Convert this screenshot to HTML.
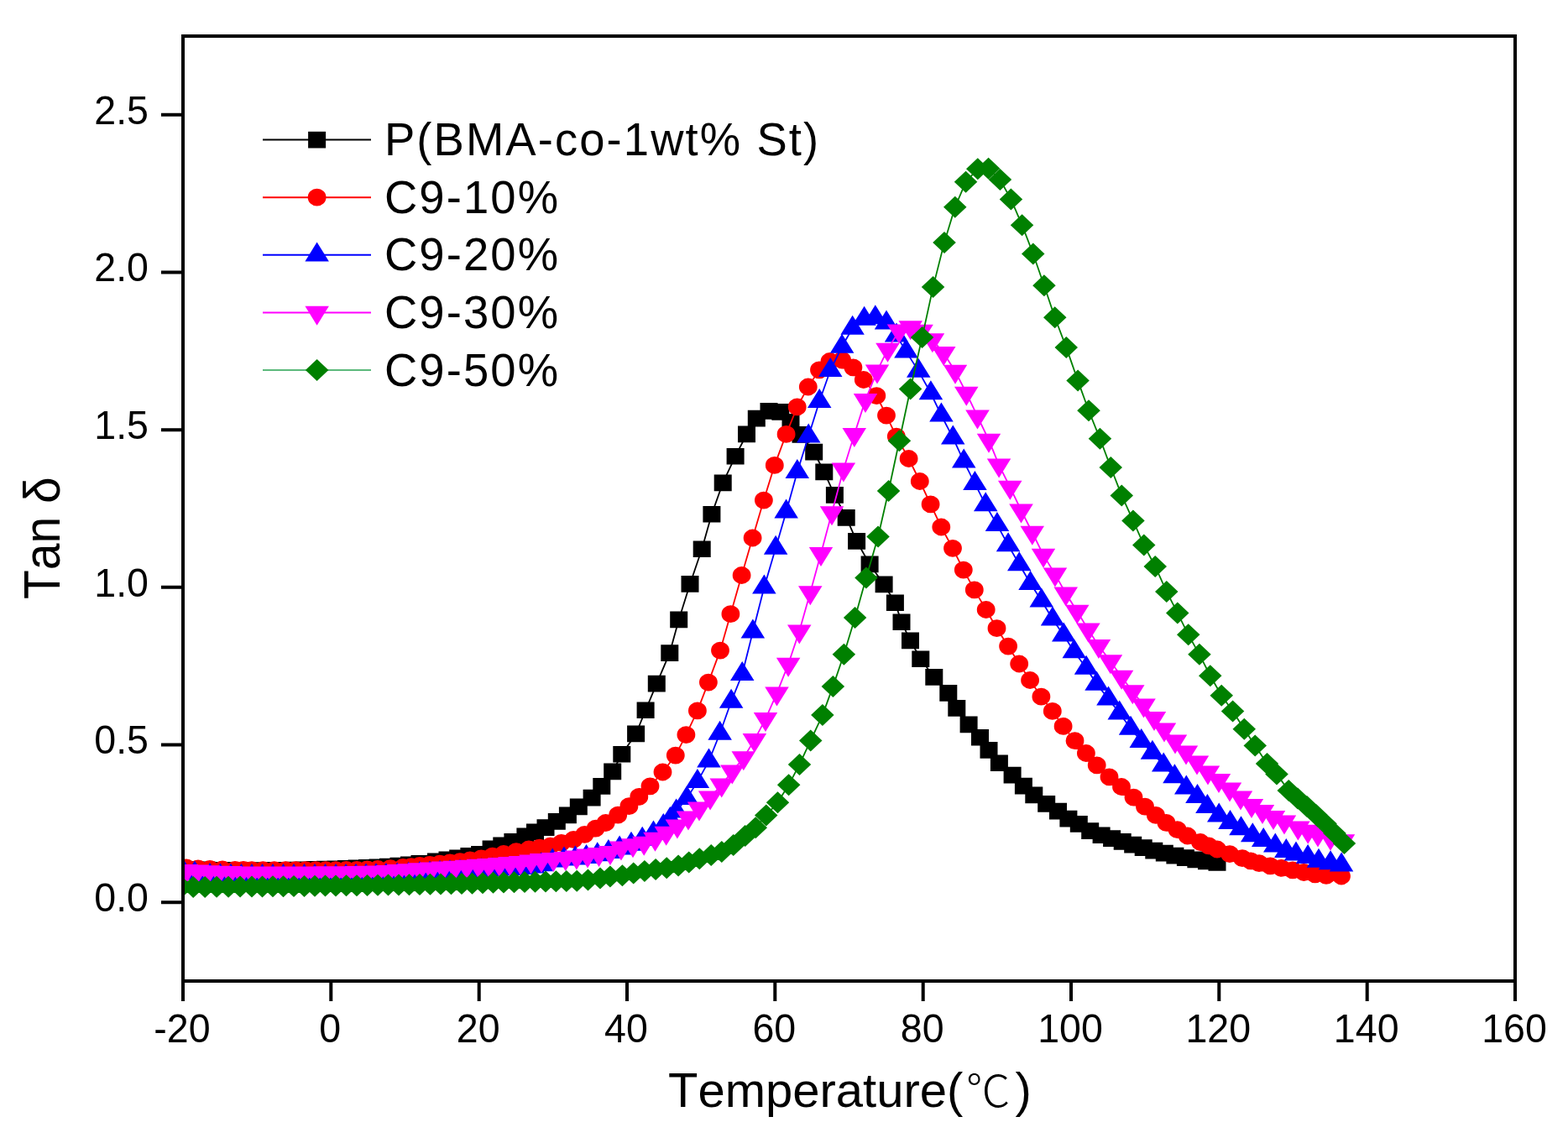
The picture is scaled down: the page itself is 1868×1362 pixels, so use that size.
<!DOCTYPE html>
<html><head><meta charset="utf-8"><title>Tan delta</title><style>html,body{margin:0;padding:0;background:#fff;overflow:hidden}svg{display:block}text{font-kerning:none;font-feature-settings:"kern" 0}</style></head><body>
<svg width="1868" height="1362" viewBox="0 0 1868 1362">
<rect width="1868" height="1362" fill="#fff"/>
<defs><clipPath id="pc"><rect x="218" y="43" width="1587" height="1126"/></clipPath></defs>
<g clip-path="url(#pc)">
<polyline fill="none" stroke="#000" stroke-width="1.8" points="218,1035.5 232,1036 246,1036.5 260,1036.8 273.3,1037 286.7,1037.1 300,1037.2 312.5,1037.1 325,1037 337.5,1036.7 350,1036.5 362.5,1036.2 375,1035.9 387.5,1035.6 400,1035.2 412.5,1034.8 425,1034.4 437.5,1033.9 450,1033.3 462.5,1032.5 475,1031.5 487.5,1030.3 500,1029 519.5,1026.3 533,1024.5 545.7,1022.2 558.9,1020 571.6,1017.7 585.1,1011.4 597.8,1007.2 610.9,1002.7 625.9,996.4 637.5,991.4 650,986.1 663.3,978.9 676.4,971.4 689.3,961.5 705.1,950.6 716.8,937 729.7,919.4 740.8,898.8 757.6,874.5 769.1,846.3 782.3,814.6 797.8,778.1 808.7,738.4 822,696 836.2,654.3 847.9,612.8 861.2,575.4 876.1,543.7 889.5,517.5 901.3,498.7 916,490 929.8,491 942,503 954,518 969.7,538.6 981.8,562.4 994.4,590 1008.2,616.9 1020.6,644.9 1036.1,672.4 1053.1,696.4 1066.4,718.2 1074,741.3 1084.5,763.4 1096.8,785.3 1112.8,807 1129.8,825.9 1139.8,844 1154.1,863.5 1167.5,878.7 1178,894 1190.4,909.3 1206.1,923.6 1219.4,936.6 1231.8,947.5 1246.7,958 1260.5,966.6 1272.9,975.6 1285.3,981.9 1298.7,990.1 1312.1,995.2 1324.6,999.1 1337.2,1002.9 1349.7,1006.6 1362.2,1010.2 1374.8,1013.5 1387.3,1016.7 1399.9,1019.6 1412.4,1022.2 1424.9,1024.5 1437.5,1026.4 1450,1028"/>
<path fill="#000" d="M207.5 1025.7h21v19.7h-21ZM221.5 1026.2h21v19.7h-21ZM235.5 1026.6h21v19.7h-21ZM249.5 1027h21v19.7h-21ZM262.8 1027.1h21v19.7h-21ZM276.2 1027.3h21v19.7h-21ZM289.5 1027.4h21v19.7h-21ZM302 1027.3h21v19.7h-21ZM314.5 1027.1h21v19.7h-21ZM327 1026.9h21v19.7h-21ZM339.5 1026.7h21v19.7h-21ZM352 1026.4h21v19.7h-21ZM364.5 1026.1h21v19.7h-21ZM377 1025.7h21v19.7h-21ZM389.5 1025.4h21v19.7h-21ZM402 1025h21v19.7h-21ZM414.5 1024.5h21v19.7h-21ZM427 1024h21v19.7h-21ZM439.5 1023.4h21v19.7h-21ZM452 1022.7h21v19.7h-21ZM464.5 1021.7h21v19.7h-21ZM477 1020.5h21v19.7h-21ZM489.5 1019.1h21v19.7h-21ZM509 1016.4h21v19.7h-21ZM522.5 1014.6h21v19.7h-21ZM535.2 1012.4h21v19.7h-21ZM548.4 1010.1h21v19.7h-21ZM561.1 1007.9h21v19.7h-21ZM574.6 1001.5h21v19.7h-21ZM587.3 997.4h21v19.7h-21ZM600.4 992.9h21v19.7h-21ZM615.4 986.5h21v19.7h-21ZM627 981.5h21v19.7h-21ZM639.5 976.2h21v19.7h-21ZM652.8 969h21v19.7h-21ZM665.9 961.5h21v19.7h-21ZM678.8 951.6h21v19.7h-21ZM694.6 940.8h21v19.7h-21ZM706.3 927.1h21v19.7h-21ZM719.2 909.5h21v19.7h-21ZM730.3 888.9h21v19.7h-21ZM747.1 864.6h21v19.7h-21ZM758.6 836.4h21v19.7h-21ZM771.8 804.8h21v19.7h-21ZM787.3 768.2h21v19.7h-21ZM798.2 728.5h21v19.7h-21ZM811.5 686.1h21v19.7h-21ZM825.7 644.4h21v19.7h-21ZM837.4 602.9h21v19.7h-21ZM850.7 565.5h21v19.7h-21ZM865.6 533.9h21v19.7h-21ZM879 507.6h21v19.7h-21ZM890.8 488.8h21v19.7h-21ZM905.5 480.1h21v19.7h-21ZM919.3 481.1h21v19.7h-21ZM931.5 493.1h21v19.7h-21ZM943.5 508.1h21v19.7h-21ZM959.2 528.8h21v19.7h-21ZM971.3 552.5h21v19.7h-21ZM983.9 580.1h21v19.7h-21ZM997.7 607h21v19.7h-21ZM1010.1 635h21v19.7h-21ZM1025.6 662.5h21v19.7h-21ZM1042.6 686.5h21v19.7h-21ZM1055.9 708.4h21v19.7h-21ZM1063.5 731.4h21v19.7h-21ZM1074 753.5h21v19.7h-21ZM1086.3 775.4h21v19.7h-21ZM1102.3 797.1h21v19.7h-21ZM1119.3 816h21v19.7h-21ZM1129.3 834.1h21v19.7h-21ZM1143.6 853.6h21v19.7h-21ZM1157 868.9h21v19.7h-21ZM1167.5 884.1h21v19.7h-21ZM1179.9 899.4h21v19.7h-21ZM1195.6 913.8h21v19.7h-21ZM1208.9 926.8h21v19.7h-21ZM1221.3 937.6h21v19.7h-21ZM1236.2 948.1h21v19.7h-21ZM1250 956.8h21v19.7h-21ZM1262.4 965.8h21v19.7h-21ZM1274.8 972h21v19.7h-21ZM1288.2 980.2h21v19.7h-21ZM1301.6 985.4h21v19.7h-21ZM1314.1 989.2h21v19.7h-21ZM1326.7 993.1h21v19.7h-21ZM1339.2 996.8h21v19.7h-21ZM1351.7 1000.3h21v19.7h-21ZM1364.3 1003.7h21v19.7h-21ZM1376.8 1006.8h21v19.7h-21ZM1389.4 1009.7h21v19.7h-21ZM1401.9 1012.3h21v19.7h-21ZM1414.4 1014.6h21v19.7h-21ZM1427 1016.6h21v19.7h-21ZM1439.5 1018.1h21v19.7h-21Z"/>
<polyline fill="none" stroke="#f00" stroke-width="1.8" points="222,1034 236,1034.8 250,1035.5 265,1036 280,1036.4 290,1036.5 300,1036.6 313.3,1036.6 326.7,1036.6 340,1036.6 352,1036.6 364,1036.6 376,1036.6 388,1036.6 400,1036.6 412.5,1036.5 425,1036.3 437.5,1035.9 450,1035.5 465,1034.7 480,1033.5 490,1032.6 500,1031.5 512,1030.3 524,1029.1 536,1027.9 548,1026.6 560,1025 573.3,1022.8 586.7,1020.1 600,1017.5 615,1014.7 630,1012 642.8,1010.2 655.5,1008.2 668.7,1004.3 683.3,1000.3 696.5,994.3 709.7,987.1 721.6,980.5 736.2,971.2 749.4,960.6 761.3,949.4 774.5,936.8 789.5,920 804.8,900.1 817.4,875.6 830.9,846.9 843.9,813.1 858,775.1 870.4,731.7 883.6,685.5 896.6,641 909.9,596.1 922.8,554.4 936.6,517.4 949.7,484.9 962.8,461 976,440.8 988.5,430.5 1003.1,429 1016.4,437.8 1028.8,452.5 1044.3,471.6 1056,495.1 1067.8,520.1 1082.6,546.5 1095.8,573.5 1108.6,600.9 1121.3,628 1135,653.3 1147.8,679.1 1160.8,702.9 1174.7,726.5 1187.5,748.7 1201.1,770.1 1214.2,791 1227.1,810.5 1240.4,830.2 1253.8,847.4 1266.6,865.4 1280.5,882.7 1293.9,897.5 1306.7,911.8 1321.5,925.8 1336,937.5 1350.5,950.1 1364,961.2 1376.9,971.4 1389.4,980.3 1402.6,988.7 1414.7,996 1430,1003.5 1440,1007.9 1450,1012 1465,1017.6 1480,1022.7 1490,1025.9 1500,1028.7 1513.3,1031.8 1526.7,1034.4 1540,1036.9 1553.3,1039.5 1566.7,1041.9 1580,1043.4 1598,1044"/>
<path fill="#f00" d="M211.1 1034a10.9 10.4 0 1 1 21.8 0a10.9 10.4 0 1 1 -21.8 0ZM225.1 1034.8a10.9 10.4 0 1 1 21.8 0a10.9 10.4 0 1 1 -21.8 0ZM239.1 1035.5a10.9 10.4 0 1 1 21.8 0a10.9 10.4 0 1 1 -21.8 0ZM254.1 1036a10.9 10.4 0 1 1 21.8 0a10.9 10.4 0 1 1 -21.8 0ZM269.1 1036.4a10.9 10.4 0 1 1 21.8 0a10.9 10.4 0 1 1 -21.8 0ZM279.1 1036.5a10.9 10.4 0 1 1 21.8 0a10.9 10.4 0 1 1 -21.8 0ZM289.1 1036.6a10.9 10.4 0 1 1 21.8 0a10.9 10.4 0 1 1 -21.8 0ZM302.4 1036.6a10.9 10.4 0 1 1 21.8 0a10.9 10.4 0 1 1 -21.8 0ZM315.8 1036.6a10.9 10.4 0 1 1 21.8 0a10.9 10.4 0 1 1 -21.8 0ZM329.1 1036.6a10.9 10.4 0 1 1 21.8 0a10.9 10.4 0 1 1 -21.8 0ZM341.1 1036.6a10.9 10.4 0 1 1 21.8 0a10.9 10.4 0 1 1 -21.8 0ZM353.1 1036.6a10.9 10.4 0 1 1 21.8 0a10.9 10.4 0 1 1 -21.8 0ZM365.1 1036.6a10.9 10.4 0 1 1 21.8 0a10.9 10.4 0 1 1 -21.8 0ZM377.1 1036.6a10.9 10.4 0 1 1 21.8 0a10.9 10.4 0 1 1 -21.8 0ZM389.1 1036.6a10.9 10.4 0 1 1 21.8 0a10.9 10.4 0 1 1 -21.8 0ZM401.6 1036.5a10.9 10.4 0 1 1 21.8 0a10.9 10.4 0 1 1 -21.8 0ZM414.1 1036.3a10.9 10.4 0 1 1 21.8 0a10.9 10.4 0 1 1 -21.8 0ZM426.6 1035.9a10.9 10.4 0 1 1 21.8 0a10.9 10.4 0 1 1 -21.8 0ZM439.1 1035.5a10.9 10.4 0 1 1 21.8 0a10.9 10.4 0 1 1 -21.8 0ZM454.1 1034.7a10.9 10.4 0 1 1 21.8 0a10.9 10.4 0 1 1 -21.8 0ZM469.1 1033.5a10.9 10.4 0 1 1 21.8 0a10.9 10.4 0 1 1 -21.8 0ZM479.1 1032.6a10.9 10.4 0 1 1 21.8 0a10.9 10.4 0 1 1 -21.8 0ZM489.1 1031.5a10.9 10.4 0 1 1 21.8 0a10.9 10.4 0 1 1 -21.8 0ZM501.1 1030.3a10.9 10.4 0 1 1 21.8 0a10.9 10.4 0 1 1 -21.8 0ZM513.1 1029.1a10.9 10.4 0 1 1 21.8 0a10.9 10.4 0 1 1 -21.8 0ZM525.1 1027.9a10.9 10.4 0 1 1 21.8 0a10.9 10.4 0 1 1 -21.8 0ZM537.1 1026.6a10.9 10.4 0 1 1 21.8 0a10.9 10.4 0 1 1 -21.8 0ZM549.1 1025a10.9 10.4 0 1 1 21.8 0a10.9 10.4 0 1 1 -21.8 0ZM562.4 1022.8a10.9 10.4 0 1 1 21.8 0a10.9 10.4 0 1 1 -21.8 0ZM575.8 1020.1a10.9 10.4 0 1 1 21.8 0a10.9 10.4 0 1 1 -21.8 0ZM589.1 1017.5a10.9 10.4 0 1 1 21.8 0a10.9 10.4 0 1 1 -21.8 0ZM604.1 1014.7a10.9 10.4 0 1 1 21.8 0a10.9 10.4 0 1 1 -21.8 0ZM619.1 1012a10.9 10.4 0 1 1 21.8 0a10.9 10.4 0 1 1 -21.8 0ZM631.9 1010.2a10.9 10.4 0 1 1 21.8 0a10.9 10.4 0 1 1 -21.8 0ZM644.6 1008.2a10.9 10.4 0 1 1 21.8 0a10.9 10.4 0 1 1 -21.8 0ZM657.8 1004.3a10.9 10.4 0 1 1 21.8 0a10.9 10.4 0 1 1 -21.8 0ZM672.4 1000.3a10.9 10.4 0 1 1 21.8 0a10.9 10.4 0 1 1 -21.8 0ZM685.6 994.3a10.9 10.4 0 1 1 21.8 0a10.9 10.4 0 1 1 -21.8 0ZM698.8 987.1a10.9 10.4 0 1 1 21.8 0a10.9 10.4 0 1 1 -21.8 0ZM710.7 980.5a10.9 10.4 0 1 1 21.8 0a10.9 10.4 0 1 1 -21.8 0ZM725.3 971.2a10.9 10.4 0 1 1 21.8 0a10.9 10.4 0 1 1 -21.8 0ZM738.5 960.6a10.9 10.4 0 1 1 21.8 0a10.9 10.4 0 1 1 -21.8 0ZM750.4 949.4a10.9 10.4 0 1 1 21.8 0a10.9 10.4 0 1 1 -21.8 0ZM763.6 936.8a10.9 10.4 0 1 1 21.8 0a10.9 10.4 0 1 1 -21.8 0ZM778.6 920a10.9 10.4 0 1 1 21.8 0a10.9 10.4 0 1 1 -21.8 0ZM793.9 900.1a10.9 10.4 0 1 1 21.8 0a10.9 10.4 0 1 1 -21.8 0ZM806.5 875.6a10.9 10.4 0 1 1 21.8 0a10.9 10.4 0 1 1 -21.8 0ZM820 846.9a10.9 10.4 0 1 1 21.8 0a10.9 10.4 0 1 1 -21.8 0ZM833 813.1a10.9 10.4 0 1 1 21.8 0a10.9 10.4 0 1 1 -21.8 0ZM847.1 775.1a10.9 10.4 0 1 1 21.8 0a10.9 10.4 0 1 1 -21.8 0ZM859.5 731.7a10.9 10.4 0 1 1 21.8 0a10.9 10.4 0 1 1 -21.8 0ZM872.7 685.5a10.9 10.4 0 1 1 21.8 0a10.9 10.4 0 1 1 -21.8 0ZM885.7 641a10.9 10.4 0 1 1 21.8 0a10.9 10.4 0 1 1 -21.8 0ZM899 596.1a10.9 10.4 0 1 1 21.8 0a10.9 10.4 0 1 1 -21.8 0ZM911.9 554.4a10.9 10.4 0 1 1 21.8 0a10.9 10.4 0 1 1 -21.8 0ZM925.7 517.4a10.9 10.4 0 1 1 21.8 0a10.9 10.4 0 1 1 -21.8 0ZM938.8 484.9a10.9 10.4 0 1 1 21.8 0a10.9 10.4 0 1 1 -21.8 0ZM951.9 461a10.9 10.4 0 1 1 21.8 0a10.9 10.4 0 1 1 -21.8 0ZM965.1 440.8a10.9 10.4 0 1 1 21.8 0a10.9 10.4 0 1 1 -21.8 0ZM977.6 430.5a10.9 10.4 0 1 1 21.8 0a10.9 10.4 0 1 1 -21.8 0ZM992.2 429a10.9 10.4 0 1 1 21.8 0a10.9 10.4 0 1 1 -21.8 0ZM1005.5 437.8a10.9 10.4 0 1 1 21.8 0a10.9 10.4 0 1 1 -21.8 0ZM1017.9 452.5a10.9 10.4 0 1 1 21.8 0a10.9 10.4 0 1 1 -21.8 0ZM1033.4 471.6a10.9 10.4 0 1 1 21.8 0a10.9 10.4 0 1 1 -21.8 0ZM1045.1 495.1a10.9 10.4 0 1 1 21.8 0a10.9 10.4 0 1 1 -21.8 0ZM1056.9 520.1a10.9 10.4 0 1 1 21.8 0a10.9 10.4 0 1 1 -21.8 0ZM1071.7 546.5a10.9 10.4 0 1 1 21.8 0a10.9 10.4 0 1 1 -21.8 0ZM1084.9 573.5a10.9 10.4 0 1 1 21.8 0a10.9 10.4 0 1 1 -21.8 0ZM1097.7 600.9a10.9 10.4 0 1 1 21.8 0a10.9 10.4 0 1 1 -21.8 0ZM1110.4 628a10.9 10.4 0 1 1 21.8 0a10.9 10.4 0 1 1 -21.8 0ZM1124.1 653.3a10.9 10.4 0 1 1 21.8 0a10.9 10.4 0 1 1 -21.8 0ZM1136.9 679.1a10.9 10.4 0 1 1 21.8 0a10.9 10.4 0 1 1 -21.8 0ZM1149.9 702.9a10.9 10.4 0 1 1 21.8 0a10.9 10.4 0 1 1 -21.8 0ZM1163.8 726.5a10.9 10.4 0 1 1 21.8 0a10.9 10.4 0 1 1 -21.8 0ZM1176.6 748.7a10.9 10.4 0 1 1 21.8 0a10.9 10.4 0 1 1 -21.8 0ZM1190.2 770.1a10.9 10.4 0 1 1 21.8 0a10.9 10.4 0 1 1 -21.8 0ZM1203.3 791a10.9 10.4 0 1 1 21.8 0a10.9 10.4 0 1 1 -21.8 0ZM1216.2 810.5a10.9 10.4 0 1 1 21.8 0a10.9 10.4 0 1 1 -21.8 0ZM1229.5 830.2a10.9 10.4 0 1 1 21.8 0a10.9 10.4 0 1 1 -21.8 0ZM1242.9 847.4a10.9 10.4 0 1 1 21.8 0a10.9 10.4 0 1 1 -21.8 0ZM1255.7 865.4a10.9 10.4 0 1 1 21.8 0a10.9 10.4 0 1 1 -21.8 0ZM1269.6 882.7a10.9 10.4 0 1 1 21.8 0a10.9 10.4 0 1 1 -21.8 0ZM1283 897.5a10.9 10.4 0 1 1 21.8 0a10.9 10.4 0 1 1 -21.8 0ZM1295.8 911.8a10.9 10.4 0 1 1 21.8 0a10.9 10.4 0 1 1 -21.8 0ZM1310.6 925.8a10.9 10.4 0 1 1 21.8 0a10.9 10.4 0 1 1 -21.8 0ZM1325.1 937.5a10.9 10.4 0 1 1 21.8 0a10.9 10.4 0 1 1 -21.8 0ZM1339.6 950.1a10.9 10.4 0 1 1 21.8 0a10.9 10.4 0 1 1 -21.8 0ZM1353.1 961.2a10.9 10.4 0 1 1 21.8 0a10.9 10.4 0 1 1 -21.8 0ZM1366 971.4a10.9 10.4 0 1 1 21.8 0a10.9 10.4 0 1 1 -21.8 0ZM1378.5 980.3a10.9 10.4 0 1 1 21.8 0a10.9 10.4 0 1 1 -21.8 0ZM1391.7 988.7a10.9 10.4 0 1 1 21.8 0a10.9 10.4 0 1 1 -21.8 0ZM1403.8 996a10.9 10.4 0 1 1 21.8 0a10.9 10.4 0 1 1 -21.8 0ZM1419.1 1003.5a10.9 10.4 0 1 1 21.8 0a10.9 10.4 0 1 1 -21.8 0ZM1429.1 1007.9a10.9 10.4 0 1 1 21.8 0a10.9 10.4 0 1 1 -21.8 0ZM1439.1 1012a10.9 10.4 0 1 1 21.8 0a10.9 10.4 0 1 1 -21.8 0ZM1454.1 1017.6a10.9 10.4 0 1 1 21.8 0a10.9 10.4 0 1 1 -21.8 0ZM1469.1 1022.7a10.9 10.4 0 1 1 21.8 0a10.9 10.4 0 1 1 -21.8 0ZM1479.1 1025.9a10.9 10.4 0 1 1 21.8 0a10.9 10.4 0 1 1 -21.8 0ZM1489.1 1028.7a10.9 10.4 0 1 1 21.8 0a10.9 10.4 0 1 1 -21.8 0ZM1502.4 1031.8a10.9 10.4 0 1 1 21.8 0a10.9 10.4 0 1 1 -21.8 0ZM1515.8 1034.4a10.9 10.4 0 1 1 21.8 0a10.9 10.4 0 1 1 -21.8 0ZM1529.1 1036.9a10.9 10.4 0 1 1 21.8 0a10.9 10.4 0 1 1 -21.8 0ZM1542.4 1039.5a10.9 10.4 0 1 1 21.8 0a10.9 10.4 0 1 1 -21.8 0ZM1555.8 1041.9a10.9 10.4 0 1 1 21.8 0a10.9 10.4 0 1 1 -21.8 0ZM1569.1 1043.4a10.9 10.4 0 1 1 21.8 0a10.9 10.4 0 1 1 -21.8 0ZM1587.1 1044a10.9 10.4 0 1 1 21.8 0a10.9 10.4 0 1 1 -21.8 0Z"/>
<polyline fill="none" stroke="#00f" stroke-width="1.8" points="218,1038.1 232,1040.8 250,1043.3 262.5,1043.8 275,1044.1 287.5,1044.3 300,1044.3 312.5,1044.3 325,1044.3 337.5,1044.3 350,1044.3 362.5,1044.3 375,1044.3 387.5,1044.3 400,1044.3 412,1044.3 424,1044.1 436,1043.9 448,1043.6 460,1043.3 473.3,1042.8 486.7,1042.1 500,1041.3 512,1040.7 524,1040.2 536,1039.6 548,1039 560,1038.3 573.3,1037.5 586.7,1036.7 600,1035.8 612.5,1035.2 625,1034.3 635,1032.8 644.9,1030.5 658.2,1025.9 672,1023.8 685.3,1022.8 698.5,1021.3 711.7,1018.6 724.9,1015.3 738.1,1010.7 752,1006.1 765.2,1000.1 778.5,992.9 790.3,984.3 798.3,976.3 805.6,966.8 818.3,951.2 830.9,931.4 844.5,906.9 857.6,874 871.1,836 884.2,803.4 896.9,752.8 910.4,699.8 924.1,653.1 936.6,609.9 949.8,562.4 963.2,519.8 976.2,478.2 989.2,441.3 1003.1,413 1015.6,391 1029.6,380 1042.8,378.5 1056,384.8 1068,399.8 1079.5,418.9 1094.2,442.1 1108.9,468.5 1121.4,494.9 1135.3,521.7 1148.2,549.8 1161.4,576.2 1174.2,601.6 1187.9,625.4 1201.1,649.6 1214.3,672.5 1227.6,695.2 1240.8,715.7 1254,737.8 1267.2,756.9 1279.7,776.5 1294.1,796 1306.6,815.1 1320.5,832.8 1333.7,849.7 1347,868 1359.7,883.3 1372.9,897.1 1386.2,911.7 1399.4,925.6 1413.3,938.8 1426.5,949.3 1438.4,961.2 1452.2,971.8 1465.5,980.4 1478.5,987.5 1492.3,995.6 1505.2,1001.4 1519.3,1007.9 1532.3,1014.4 1544,1017.9 1558.1,1021.4 1571,1026.1 1585.1,1028.5 1598.1,1030.8"/>
<path fill="#00f" d="M218 1022.8L232.2 1045.8H203.8ZM232 1025.5L246.2 1048.5H217.8ZM250 1028L264.2 1051H235.8ZM262.5 1028.4L276.8 1051.4H248.2ZM275 1028.7L289.2 1051.7H260.8ZM287.5 1028.9L301.8 1051.9H273.2ZM300 1029L314.2 1052H285.8ZM312.5 1029L326.8 1052H298.2ZM325 1029L339.2 1052H310.8ZM337.5 1029L351.8 1052H323.2ZM350 1029L364.2 1052H335.8ZM362.5 1029L376.8 1052H348.2ZM375 1029L389.2 1052H360.8ZM387.5 1029L401.8 1052H373.2ZM400 1029L414.2 1052H385.8ZM412 1028.9L426.2 1051.9H397.8ZM424 1028.8L438.2 1051.8H409.8ZM436 1028.6L450.2 1051.6H421.8ZM448 1028.3L462.2 1051.3H433.8ZM460 1028L474.2 1051H445.8ZM473.3 1027.5L487.6 1050.5H459.1ZM486.7 1026.7L500.9 1049.7H472.4ZM500 1026L514.2 1049H485.8ZM512 1025.4L526.2 1048.4H497.8ZM524 1024.8L538.2 1047.8H509.8ZM536 1024.3L550.2 1047.3H521.8ZM548 1023.6L562.2 1046.6H533.8ZM560 1023L574.2 1046H545.8ZM573.3 1022.2L587.6 1045.2H559.1ZM586.7 1021.3L600.9 1044.3H572.4ZM600 1020.5L614.2 1043.5H585.8ZM612.5 1019.9L626.8 1042.9H598.2ZM625 1019L639.2 1042H610.8ZM635 1017.5L649.2 1040.5H620.7ZM644.9 1015.2L659.1 1038.2H630.6ZM658.2 1010.6L672.5 1033.6H644ZM672 1008.5L686.2 1031.5H657.8ZM685.3 1007.5L699.5 1030.5H671ZM698.5 1006L712.8 1029H684.2ZM711.7 1003.3L726 1026.3H697.5ZM724.9 1000L739.1 1023H710.6ZM738.1 995.4L752.4 1018.4H723.9ZM752 990.8L766.2 1013.8H737.8ZM765.2 984.8L779.5 1007.8H751ZM778.5 977.6L792.8 1000.6H764.2ZM790.3 969L804.5 992H776ZM798.3 961L812.5 984H784ZM805.6 951.5L819.9 974.5H791.4ZM818.3 935.9L832.5 958.9H804ZM830.9 916.1L845.1 939.1H816.6ZM844.5 891.6L858.8 914.6H830.2ZM857.6 858.7L871.9 881.7H843.4ZM871.1 820.7L885.4 843.7H856.9ZM884.2 788.1L898.5 811.1H870ZM896.9 737.5L911.1 760.5H882.6ZM910.4 684.5L924.6 707.5H896.1ZM924.1 637.8L938.4 660.8H909.9ZM936.6 594.6L950.9 617.6H922.4ZM949.8 547.1L964 570.1H935.5ZM963.2 504.5L977.5 527.5H949ZM976.2 462.9L990.5 485.9H962ZM989.2 426L1003.5 449H975ZM1003.1 397.7L1017.4 420.7H988.9ZM1015.6 375.7L1029.8 398.7H1001.4ZM1029.6 364.7L1043.8 387.7H1015.3ZM1042.8 363.2L1057 386.2H1028.5ZM1056 369.5L1070.2 392.5H1041.8ZM1068 384.5L1082.2 407.5H1053.8ZM1079.5 403.6L1093.8 426.6H1065.2ZM1094.2 426.8L1108.5 449.8H1080ZM1108.9 453.2L1123.2 476.2H1094.7ZM1121.4 479.6L1135.7 502.6H1107.2ZM1135.3 506.4L1149.5 529.4H1121ZM1148.2 534.5L1162.5 557.5H1134ZM1161.4 560.9L1175.7 583.9H1147.2ZM1174.2 586.3L1188.5 609.3H1160ZM1187.9 610.1L1202.2 633.1H1173.7ZM1201.1 634.3L1215.3 657.3H1186.8ZM1214.3 657.2L1228.5 680.2H1200ZM1227.6 679.9L1241.8 702.9H1213.3ZM1240.8 700.4L1255 723.4H1226.5ZM1254 722.5L1268.2 745.5H1239.8ZM1267.2 741.6L1281.5 764.6H1253ZM1279.7 761.2L1294 784.2H1265.5ZM1294.1 780.7L1308.3 803.7H1279.8ZM1306.6 799.8L1320.8 822.8H1292.3ZM1320.5 817.5L1334.8 840.5H1306.2ZM1333.7 834.4L1348 857.4H1319.5ZM1347 852.7L1361.2 875.7H1332.8ZM1359.7 868L1374 891H1345.5ZM1372.9 881.8L1387.2 904.8H1358.7ZM1386.2 896.4L1400.5 919.4H1372ZM1399.4 910.3L1413.7 933.3H1385.2ZM1413.3 923.5L1427.5 946.5H1399ZM1426.5 934L1440.8 957H1412.2ZM1438.4 945.9L1452.7 968.9H1424.2ZM1452.2 956.5L1466.5 979.5H1438ZM1465.5 965.1L1479.8 988.1H1451.2ZM1478.5 972.2L1492.8 995.2H1464.2ZM1492.3 980.3L1506.5 1003.3H1478ZM1505.2 986.1L1519.5 1009.1H1491ZM1519.3 992.6L1533.5 1015.6H1505ZM1532.3 999.1L1546.5 1022.1H1518ZM1544 1002.6L1558.2 1025.6H1529.8ZM1558.1 1006.1L1572.3 1029.1H1543.8ZM1571 1010.8L1585.2 1033.8H1556.8ZM1585.1 1013.2L1599.3 1036.2H1570.8ZM1598.1 1015.5L1612.3 1038.5H1583.8Z"/>
<polyline fill="none" stroke="#f0f" stroke-width="1.8" points="222,1037.7 235,1038.3 248,1038.9 261,1039.4 274,1039.8 287,1040.1 300,1040.2 312.5,1040.2 325,1040.2 337.5,1040.1 350,1040.1 362.5,1040.1 375,1040.1 387.5,1040 400,1040 412.5,1039.9 425,1039.7 437.5,1039.5 450,1039.2 462.5,1038.6 475,1037.8 487.5,1036.9 500,1036 514,1035.1 528,1034.2 542,1033.3 556,1032.4 570,1031.5 582.5,1030.6 595,1029.7 607.5,1028.8 620,1027.7 632.5,1026.1 645,1024.7 659.4,1023.7 673.7,1022.7 686.9,1021 700,1019.2 713.5,1017.7 727,1015.7 740,1010.2 754,1006.9 767.2,1004.4 780.5,999.4 793.7,992.5 806.9,984.1 820,974.2 833,963.2 846.1,950.2 859.7,935.2 872.3,919.2 885.8,903 898.9,881.6 912,856.6 925.5,826.2 939.1,791.5 952.3,752.1 965.3,705.9 978,659.7 991,611 1004.9,559.2 1017.8,517.7 1031,476.6 1045,442.1 1057.5,416.4 1071.1,394.2 1084.7,390 1097.6,394.5 1110.9,405 1124.2,420.7 1138,442.5 1151.3,468.4 1164.5,496.2 1178,524.4 1190.1,554.1 1203.3,580.5 1216.5,608.1 1229.8,634.5 1243,661.4 1256.9,684.1 1269.7,707.1 1283.2,728.5 1296.4,750.1 1308.9,769.6 1322.9,788 1336.1,806.4 1349.3,824 1362.5,840.2 1375,855.6 1387,869.2 1400,883.2 1413,896.2 1426,908.2 1439,920.2 1452,929.7 1465,940.2 1478,950.2 1491,959.7 1504,966.7 1517,973.7 1530,979.2 1546.4,986.2 1558.2,990.4 1570,994.2 1585,998.3 1600,1001.9"/>
<path fill="#f0f" d="M207.8 1030H236.2L222 1053ZM220.8 1030.6H249.2L235 1053.6ZM233.8 1031.2H262.2L248 1054.2ZM246.8 1031.7H275.2L261 1054.7ZM259.8 1032.1H288.2L274 1055.1ZM272.8 1032.4H301.2L287 1055.4ZM285.8 1032.5H314.2L300 1055.5ZM298.2 1032.5H326.8L312.5 1055.5ZM310.8 1032.5H339.2L325 1055.5ZM323.2 1032.5H351.8L337.5 1055.5ZM335.8 1032.4H364.2L350 1055.4ZM348.2 1032.4H376.8L362.5 1055.4ZM360.8 1032.4H389.2L375 1055.4ZM373.2 1032.3H401.8L387.5 1055.3ZM385.8 1032.3H414.2L400 1055.3ZM398.2 1032.2H426.8L412.5 1055.2ZM410.8 1032H439.2L425 1055ZM423.2 1031.8H451.8L437.5 1054.8ZM435.8 1031.5H464.2L450 1054.5ZM448.2 1031H476.8L462.5 1054ZM460.8 1030.1H489.2L475 1053.1ZM473.2 1029.2H501.8L487.5 1052.2ZM485.8 1028.3H514.2L500 1051.3ZM499.8 1027.4H528.2L514 1050.4ZM513.8 1026.5H542.2L528 1049.5ZM527.8 1025.7H556.2L542 1048.7ZM541.8 1024.8H570.2L556 1047.8ZM555.8 1023.8H584.2L570 1046.8ZM568.2 1022.9H596.8L582.5 1045.9ZM580.8 1022.1H609.2L595 1045.1ZM593.2 1021.1H621.8L607.5 1044.1ZM605.8 1020H634.2L620 1043ZM618.2 1018.5H646.8L632.5 1041.5ZM630.8 1017H659.2L645 1040ZM645.1 1016H673.6L659.4 1039ZM659.5 1015H688L673.7 1038ZM672.6 1013.4H701.1L686.9 1036.4ZM685.8 1011.5H714.2L700 1034.5ZM699.2 1010H727.8L713.5 1033ZM712.8 1008H741.2L727 1031ZM725.8 1002.5H754.2L740 1025.5ZM739.8 999.2H768.2L754 1022.2ZM753 996.7H781.5L767.2 1019.7ZM766.2 991.7H794.7L780.5 1014.7ZM779.5 984.8H808L793.7 1007.8ZM792.6 976.4H821.1L806.9 999.4ZM805.8 966.5H834.2L820 989.5ZM818.8 955.5H847.2L833 978.5ZM831.9 942.5H860.4L846.1 965.5ZM845.5 927.5H874L859.7 950.5ZM858 911.5H886.5L872.3 934.5ZM871.5 895.3H900L885.8 918.3ZM884.6 873.9H913.1L898.9 896.9ZM897.8 848.9H926.2L912 871.9ZM911.2 818.5H939.8L925.5 841.5ZM924.9 783.8H953.4L939.1 806.8ZM938 744.4H966.5L952.3 767.4ZM951 698.2H979.5L965.3 721.2ZM963.8 652H992.2L978 675ZM976.8 603.3H1005.2L991 626.3ZM990.6 551.5H1019.1L1004.9 574.5ZM1003.5 510H1032L1017.8 533ZM1016.8 468.9H1045.2L1031 491.9ZM1030.8 434.4H1059.2L1045 457.4ZM1043.2 408.7H1071.8L1057.5 431.7ZM1056.8 386.5H1085.3L1071.1 409.5ZM1070.5 382.3H1099L1084.7 405.3ZM1083.3 386.8H1111.8L1097.6 409.8ZM1096.7 397.3H1125.2L1110.9 420.3ZM1110 413H1138.5L1124.2 436ZM1123.8 434.8H1152.2L1138 457.8ZM1137 460.7H1165.5L1151.3 483.7ZM1150.2 488.5H1178.8L1164.5 511.5ZM1163.8 516.7H1192.2L1178 539.7ZM1175.8 546.4H1204.3L1190.1 569.4ZM1189 572.8H1217.5L1203.3 595.8ZM1202.2 600.4H1230.8L1216.5 623.4ZM1215.5 626.8H1244L1229.8 649.8ZM1228.8 653.7H1257.2L1243 676.7ZM1242.7 676.4H1271.2L1256.9 699.4ZM1255.5 699.4H1284L1269.7 722.4ZM1269 720.8H1297.5L1283.2 743.8ZM1282.2 742.4H1310.7L1296.4 765.4ZM1294.7 761.9H1323.2L1308.9 784.9ZM1308.7 780.3H1337.2L1322.9 803.3ZM1321.8 798.7H1350.3L1336.1 821.7ZM1335 816.3H1363.5L1349.3 839.3ZM1348.2 832.5H1376.8L1362.5 855.5ZM1360.8 847.9H1389.2L1375 870.9ZM1372.8 861.5H1401.2L1387 884.5ZM1385.8 875.5H1414.2L1400 898.5ZM1398.8 888.5H1427.2L1413 911.5ZM1411.8 900.5H1440.2L1426 923.5ZM1424.8 912.5H1453.2L1439 935.5ZM1437.8 922H1466.2L1452 945ZM1450.8 932.5H1479.2L1465 955.5ZM1463.8 942.5H1492.2L1478 965.5ZM1476.8 952H1505.2L1491 975ZM1489.8 959H1518.2L1504 982ZM1502.8 966H1531.2L1517 989ZM1515.8 971.5H1544.2L1530 994.5ZM1532.2 978.5H1560.7L1546.4 1001.5ZM1544 982.8H1572.5L1558.2 1005.8ZM1555.8 986.5H1584.2L1570 1009.5ZM1570.8 990.7H1599.2L1585 1013.7ZM1585.8 994.2H1614.2L1600 1017.2Z"/>
<polyline fill="none" stroke="#008000" stroke-width="1.8" points="216.3,1057 230.2,1056.9 244.2,1056.9 258.1,1056.8 272.1,1056.7 286.1,1056.6 300,1056.5 312.5,1056.4 325,1056.3 337.5,1056.2 350,1056.1 362.5,1055.9 375,1055.8 387.5,1055.6 400,1055.5 412.5,1055.3 425,1055.2 437.5,1055 450,1054.8 462.5,1054.6 475,1054.4 487.5,1054.2 500,1054 512.5,1053.8 525,1053.5 537.5,1053.3 550,1053 562.5,1052.7 575,1052.3 587.5,1051.8 600,1051.5 612.5,1051.2 625,1051 637.5,1050.7 650,1050.5 662.4,1050.3 674.8,1050.1 687.2,1049.8 700.5,1048.5 715,1046.5 726.9,1044.5 741.4,1043.2 754.7,1040.5 767.9,1037.9 781.1,1035.9 794.2,1034.3 808.1,1031.6 820.7,1027.4 833.3,1023.2 847.2,1019.1 859.8,1014.9 873.7,1007 887.7,996 900.2,986.3 912.8,971.6 926.5,956.3 939.6,935.3 952.5,910.9 965.7,882.4 979.9,852.1 992.4,817.9 1005.4,779.7 1018.6,736 1031.9,688.6 1046.1,639.4 1058.6,585 1071.4,525.2 1084.6,463.5 1098.6,401.9 1111.6,342.1 1125,288.9 1137.8,246.7 1150.6,216.8 1164.8,201.2 1177.6,200.8 1191.4,214 1204.4,237.5 1217.6,268.2 1230.8,302.5 1243.9,340.3 1256.7,378.3 1270.3,414.1 1284.1,453.6 1297,489.3 1310.4,522.7 1323.3,557 1336.3,590.4 1349.9,620.4 1362.8,649.6 1376.2,675 1389.8,704.9 1402.8,730.4 1415.7,756.3 1428.9,779.8 1441.8,805.2 1455.2,828.7 1468.6,847.5 1482.3,868.7 1495.2,888.6 1509.5,910 1521,922.5 1535.2,942 1546,951.5 1557,961 1568,971 1579,981.5 1590,993 1601.5,1005"/>
<path fill="#008000" d="M216.3 1044L230.1 1057L216.3 1070L202.6 1057ZM230.2 1043.9L244 1056.9L230.2 1069.9L216.5 1056.9ZM244.2 1043.9L258 1056.9L244.2 1069.9L230.5 1056.9ZM258.1 1043.8L271.9 1056.8L258.1 1069.8L244.4 1056.8ZM272.1 1043.7L285.9 1056.7L272.1 1069.7L258.4 1056.7ZM286.1 1043.6L299.8 1056.6L286.1 1069.6L272.3 1056.6ZM300 1043.5L313.8 1056.5L300 1069.5L286.2 1056.5ZM312.5 1043.4L326.2 1056.4L312.5 1069.4L298.8 1056.4ZM325 1043.3L338.8 1056.3L325 1069.3L311.2 1056.3ZM337.5 1043.2L351.2 1056.2L337.5 1069.2L323.8 1056.2ZM350 1043.1L363.8 1056.1L350 1069.1L336.2 1056.1ZM362.5 1042.9L376.2 1055.9L362.5 1068.9L348.8 1055.9ZM375 1042.8L388.8 1055.8L375 1068.8L361.2 1055.8ZM387.5 1042.6L401.2 1055.6L387.5 1068.6L373.8 1055.6ZM400 1042.5L413.8 1055.5L400 1068.5L386.2 1055.5ZM412.5 1042.3L426.2 1055.3L412.5 1068.3L398.8 1055.3ZM425 1042.2L438.8 1055.2L425 1068.2L411.2 1055.2ZM437.5 1042L451.2 1055L437.5 1068L423.8 1055ZM450 1041.8L463.8 1054.8L450 1067.8L436.2 1054.8ZM462.5 1041.6L476.2 1054.6L462.5 1067.6L448.8 1054.6ZM475 1041.4L488.8 1054.4L475 1067.4L461.2 1054.4ZM487.5 1041.2L501.2 1054.2L487.5 1067.2L473.8 1054.2ZM500 1041L513.8 1054L500 1067L486.2 1054ZM512.5 1040.8L526.2 1053.8L512.5 1066.8L498.8 1053.8ZM525 1040.5L538.8 1053.5L525 1066.5L511.2 1053.5ZM537.5 1040.3L551.2 1053.3L537.5 1066.3L523.8 1053.3ZM550 1040L563.8 1053L550 1066L536.2 1053ZM562.5 1039.7L576.2 1052.7L562.5 1065.7L548.8 1052.7ZM575 1039.3L588.8 1052.3L575 1065.3L561.2 1052.3ZM587.5 1038.8L601.2 1051.8L587.5 1064.8L573.8 1051.8ZM600 1038.5L613.8 1051.5L600 1064.5L586.2 1051.5ZM612.5 1038.2L626.2 1051.2L612.5 1064.2L598.8 1051.2ZM625 1038L638.8 1051L625 1064L611.2 1051ZM637.5 1037.7L651.2 1050.7L637.5 1063.7L623.8 1050.7ZM650 1037.5L663.8 1050.5L650 1063.5L636.2 1050.5ZM662.4 1037.3L676.1 1050.3L662.4 1063.3L648.6 1050.3ZM674.8 1037.1L688.6 1050.1L674.8 1063.1L661.1 1050.1ZM687.2 1036.8L701 1049.8L687.2 1062.8L673.5 1049.8ZM700.5 1035.5L714.2 1048.5L700.5 1061.5L686.8 1048.5ZM715 1033.5L728.8 1046.5L715 1059.5L701.2 1046.5ZM726.9 1031.5L740.6 1044.5L726.9 1057.5L713.1 1044.5ZM741.4 1030.2L755.1 1043.2L741.4 1056.2L727.6 1043.2ZM754.7 1027.5L768.5 1040.5L754.7 1053.5L741 1040.5ZM767.9 1024.9L781.6 1037.9L767.9 1050.9L754.1 1037.9ZM781.1 1022.9L794.9 1035.9L781.1 1048.9L767.4 1035.9ZM794.2 1021.3L808 1034.3L794.2 1047.3L780.5 1034.3ZM808.1 1018.6L821.9 1031.6L808.1 1044.6L794.4 1031.6ZM820.7 1014.4L834.5 1027.4L820.7 1040.4L807 1027.4ZM833.3 1010.2L847 1023.2L833.3 1036.2L819.5 1023.2ZM847.2 1006.1L861 1019.1L847.2 1032.1L833.5 1019.1ZM859.8 1001.9L873.5 1014.9L859.8 1027.9L846 1014.9ZM873.7 994L887.5 1007L873.7 1020L860 1007ZM887.7 983L901.5 996L887.7 1009L874 996ZM900.2 973.3L914 986.3L900.2 999.3L886.5 986.3ZM912.8 958.6L926.5 971.6L912.8 984.6L899 971.6ZM926.5 943.3L940.2 956.3L926.5 969.3L912.8 956.3ZM939.6 922.3L953.4 935.3L939.6 948.3L925.9 935.3ZM952.5 897.9L966.2 910.9L952.5 923.9L938.8 910.9ZM965.7 869.4L979.5 882.4L965.7 895.4L952 882.4ZM979.9 839.1L993.6 852.1L979.9 865.1L966.1 852.1ZM992.4 804.9L1006.1 817.9L992.4 830.9L978.6 817.9ZM1005.4 766.7L1019.1 779.7L1005.4 792.7L991.6 779.7ZM1018.6 723L1032.3 736L1018.6 749L1004.9 736ZM1031.9 675.6L1045.7 688.6L1031.9 701.6L1018.2 688.6ZM1046.1 626.4L1059.8 639.4L1046.1 652.4L1032.3 639.4ZM1058.6 572L1072.3 585L1058.6 598L1044.8 585ZM1071.4 512.2L1085.2 525.2L1071.4 538.2L1057.7 525.2ZM1084.6 450.5L1098.3 463.5L1084.6 476.5L1070.8 463.5ZM1098.6 388.9L1112.3 401.9L1098.6 414.9L1084.8 401.9ZM1111.6 329.1L1125.3 342.1L1111.6 355.1L1097.8 342.1ZM1125 275.9L1138.8 288.9L1125 301.9L1111.2 288.9ZM1137.8 233.7L1151.5 246.7L1137.8 259.7L1124 246.7ZM1150.6 203.8L1164.3 216.8L1150.6 229.8L1136.8 216.8ZM1164.8 188.2L1178.5 201.2L1164.8 214.2L1151 201.2ZM1177.6 187.8L1191.3 200.8L1177.6 213.8L1163.8 200.8ZM1191.4 201L1205.2 214L1191.4 227L1177.7 214ZM1204.4 224.5L1218.2 237.5L1204.4 250.5L1190.7 237.5ZM1217.6 255.2L1231.3 268.2L1217.6 281.2L1203.8 268.2ZM1230.8 289.5L1244.5 302.5L1230.8 315.5L1217 302.5ZM1243.9 327.3L1257.7 340.3L1243.9 353.3L1230.2 340.3ZM1256.7 365.3L1270.5 378.3L1256.7 391.3L1243 378.3ZM1270.3 401.1L1284 414.1L1270.3 427.1L1256.5 414.1ZM1284.1 440.6L1297.8 453.6L1284.1 466.6L1270.3 453.6ZM1297 476.3L1310.8 489.3L1297 502.3L1283.2 489.3ZM1310.4 509.7L1324.2 522.7L1310.4 535.7L1296.7 522.7ZM1323.3 544L1337 557L1323.3 570L1309.5 557ZM1336.3 577.4L1350 590.4L1336.3 603.4L1322.5 590.4ZM1349.9 607.4L1363.7 620.4L1349.9 633.4L1336.2 620.4ZM1362.8 636.6L1376.5 649.6L1362.8 662.6L1349 649.6ZM1376.2 662L1390 675L1376.2 688L1362.5 675ZM1389.8 691.9L1403.5 704.9L1389.8 717.9L1376 704.9ZM1402.8 717.4L1416.5 730.4L1402.8 743.4L1389 730.4ZM1415.7 743.3L1429.5 756.3L1415.7 769.3L1402 756.3ZM1428.9 766.8L1442.7 779.8L1428.9 792.8L1415.2 779.8ZM1441.8 792.2L1455.5 805.2L1441.8 818.2L1428 805.2ZM1455.2 815.7L1469 828.7L1455.2 841.7L1441.5 828.7ZM1468.6 834.5L1482.3 847.5L1468.6 860.5L1454.8 847.5ZM1482.3 855.7L1496 868.7L1482.3 881.7L1468.5 868.7ZM1495.2 875.6L1509 888.6L1495.2 901.6L1481.5 888.6ZM1509.5 897L1523.2 910L1509.5 923L1495.8 910ZM1521 909.5L1534.8 922.5L1521 935.5L1507.2 922.5ZM1535.2 929L1549 942L1535.2 955L1521.5 942ZM1546 938.5L1559.8 951.5L1546 964.5L1532.2 951.5ZM1557 948L1570.8 961L1557 974L1543.2 961ZM1568 958L1581.8 971L1568 984L1554.2 971ZM1579 968.5L1592.8 981.5L1579 994.5L1565.2 981.5ZM1590 980L1603.8 993L1590 1006L1576.2 993ZM1601.5 992L1615.2 1005L1601.5 1018L1587.8 1005Z"/>
</g>
<rect x="218" y="43" width="1587" height="1126" fill="none" stroke="#000" stroke-width="4"/>
<path d="M218 1169V1193M394.3 1169V1193M570.7 1169V1193M747 1169V1193M923.3 1169V1193M1099.7 1169V1193M1276 1169V1193M1452.3 1169V1193M1628.7 1169V1193M1805 1169V1193M218 1075.2H192M218 887.5H192M218 699.8H192M218 512.2H192M218 324.5H192M218 136.8H192" stroke="#000" stroke-width="4" fill="none"/>
<g font-family="'Liberation Sans', sans-serif" font-size="48.5" fill="#000" text-anchor="middle">
<text x="217" y="1241.8" transform="translate(217 0) scale(0.96 1) translate(-217 0)">-20</text>
<text x="393.3" y="1241.8" transform="translate(393.3 0) scale(0.96 1) translate(-393.3 0)">0</text>
<text x="569.7" y="1241.8" transform="translate(569.7 0) scale(0.96 1) translate(-569.7 0)">20</text>
<text x="746" y="1241.8" transform="translate(746 0) scale(0.96 1) translate(-746 0)">40</text>
<text x="922.3" y="1241.8" transform="translate(922.3 0) scale(0.96 1) translate(-922.3 0)">60</text>
<text x="1098.7" y="1241.8" transform="translate(1098.7 0) scale(0.96 1) translate(-1098.7 0)">80</text>
<text x="1275" y="1241.8" transform="translate(1275 0) scale(0.96 1) translate(-1275 0)">100</text>
<text x="1451.3" y="1241.8" transform="translate(1451.3 0) scale(0.96 1) translate(-1451.3 0)">120</text>
<text x="1627.7" y="1241.8" transform="translate(1627.7 0) scale(0.96 1) translate(-1627.7 0)">140</text>
<text x="1804" y="1241.8" transform="translate(1804 0) scale(0.96 1) translate(-1804 0)">160</text>
</g>
<g font-family="'Liberation Sans', sans-serif" font-size="48.5" fill="#000" text-anchor="end">
<text x="177" y="1086.2" transform="translate(177 0) scale(0.96 1) translate(-177 0)">0.0</text>
<text x="177" y="898.5" transform="translate(177 0) scale(0.96 1) translate(-177 0)">0.5</text>
<text x="177" y="710.8" transform="translate(177 0) scale(0.96 1) translate(-177 0)">1.0</text>
<text x="177" y="523.2" transform="translate(177 0) scale(0.96 1) translate(-177 0)">1.5</text>
<text x="177" y="335.5" transform="translate(177 0) scale(0.96 1) translate(-177 0)">2.0</text>
<text x="177" y="147.8" transform="translate(177 0) scale(0.96 1) translate(-177 0)">2.5</text>
</g>
<text font-family="'Liberation Sans', sans-serif" font-size="57" x="796" y="1319.3" transform="translate(796 0) scale(1.018 1) translate(-796 0)">Temperature(<tspan dx="3.2" font-family="'Liberation Sans', 'Noto Sans CJK SC', sans-serif" font-weight="300" font-size="52">℃</tspan><tspan dx="5.8">)</tspan></text>
<text font-family="'Liberation Sans', sans-serif" font-size="57" transform="translate(71 714) rotate(-90) scale(1 1.06)" x="0" y="0">Tan δ</text>
<line x1="313" y1="166.6" x2="442" y2="166.6" stroke="#000" stroke-width="2"/>
<g fill="#000"><path d="M367.1 156.8h21v19.7h-21Z"/></g>
<text font-family="'Liberation Sans', sans-serif" font-size="55.5" style="letter-spacing:2.15px" x="458" y="185.3" transform="translate(458 0) scale(0.98 1) translate(-458 0)">P(BMA-co-1wt% St)</text>
<line x1="313" y1="235.2" x2="442" y2="235.2" stroke="#f00" stroke-width="2"/>
<g fill="#f00"><path d="M366.7 235.2a10.9 10.4 0 1 1 21.8 0a10.9 10.4 0 1 1 -21.8 0Z"/></g>
<text font-family="'Liberation Sans', sans-serif" font-size="55.5" style="letter-spacing:2.15px" x="458" y="253.9" transform="translate(458 0) scale(0.98 1) translate(-458 0)">C9-10%</text>
<line x1="313" y1="303.8" x2="442" y2="303.8" stroke="#00f" stroke-width="2"/>
<g fill="#00f"><path d="M377.6 288.5L391.9 311.5H363.4Z"/></g>
<text font-family="'Liberation Sans', sans-serif" font-size="55.5" style="letter-spacing:2.15px" x="458" y="322.5" transform="translate(458 0) scale(0.98 1) translate(-458 0)">C9-20%</text>
<line x1="313" y1="372.4" x2="442" y2="372.4" stroke="#f0f" stroke-width="2"/>
<g fill="#f0f"><path d="M363.4 364.7H391.9L377.6 387.7Z"/></g>
<text font-family="'Liberation Sans', sans-serif" font-size="55.5" style="letter-spacing:2.15px" x="458" y="391.1" transform="translate(458 0) scale(0.98 1) translate(-458 0)">C9-30%</text>
<line x1="313" y1="441" x2="442" y2="441" stroke="#5cb97c" stroke-width="2"/>
<g fill="#008000"><path d="M377.6 428L391.4 441L377.6 454L363.9 441Z"/></g>
<text font-family="'Liberation Sans', sans-serif" font-size="55.5" style="letter-spacing:2.15px" x="458" y="459.7" transform="translate(458 0) scale(0.98 1) translate(-458 0)">C9-50%</text>
</svg></body></html>
